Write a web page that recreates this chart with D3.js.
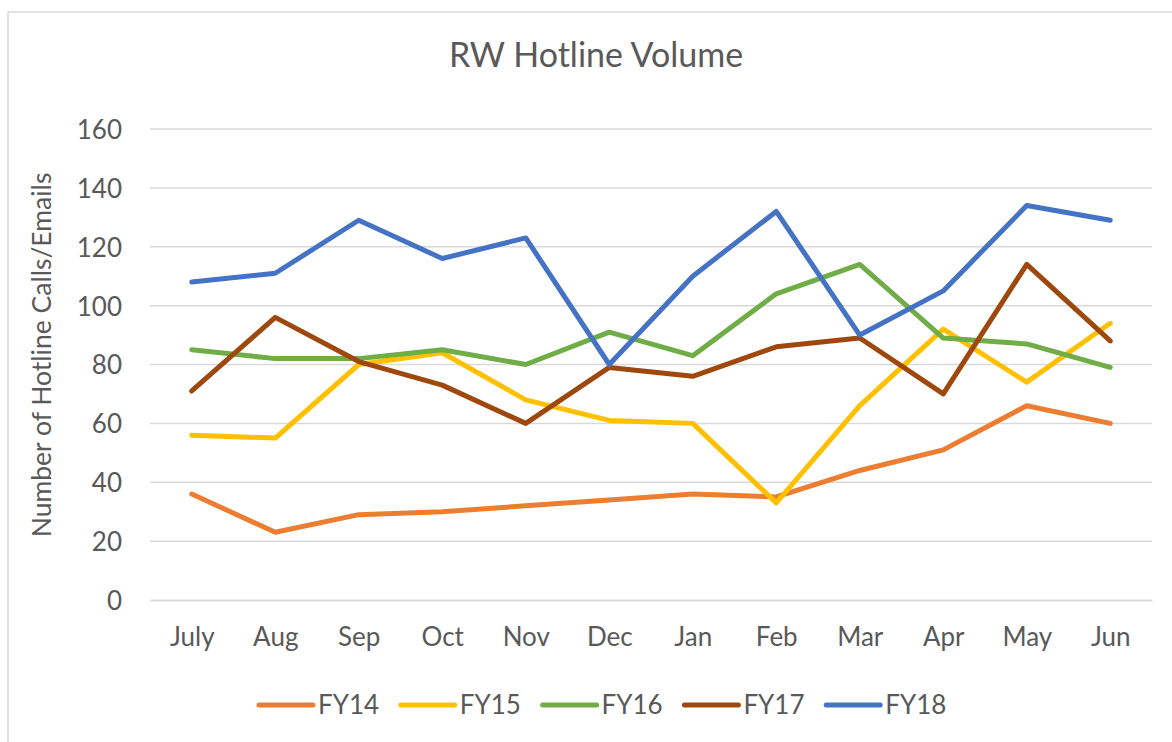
<!DOCTYPE html>
<html>
<head>
<meta charset="utf-8">
<script src="https://cdn.jsdelivr.net/npm/d3@7"></script>
<style>
  html, body { margin: 0; padding: 0; background: #fff; }
  svg { display: block; }
  text { font-family: "Lato", "Open Sans", sans-serif; fill: #595959; }
</style>
</head>
<body>
<svg id="chart" width="1172" height="742"></svg>
<script>
const months = ["July","Aug","Sep","Oct","Nov","Dec","Jan","Feb","Mar","Apr","May","Jun"];
const yTicks = [0,20,40,60,80,100,120,140,160];
const seriesNames = ["FY14","FY15","FY16","FY17","FY18"];
const fy14 = [36,23,29,30,32,34,36,35,44,51,66,60];
const fy15 = [56,55,80,84,68,61,60,33,66,92,74,94];
const fy16 = [85,82,82,85,80,91,83,104,114,89,87,79];
const fy17 = [71,96,81,73,60,79,76,86,89,70,114,88];
const fy18 = [108,111,129,116,123,80,110,132,90,105,134,129];
const seriesValues = [fy14, fy15, fy16, fy17, fy18];
const colors = ["#ED7D31","#FFC000","#70AD47","#9E480E","#4472C4"];

const svg = d3.select("#chart");

// chart border
svg.append("rect")
  .attr("x", 8).attr("y", 12)
  .attr("width", 1200).attr("height", 760)
  .attr("fill", "none").attr("stroke", "#d9d9d9").attr("stroke-width", 1.5);

const plotLeft = 150, plotRight = 1152, plotTop = 129, plotBottom = 600;

const x = d3.scalePoint().domain(months).range([plotLeft, plotRight]).padding(0.5);
const y = d3.scaleLinear().domain([0, 160]).range([plotBottom, plotTop]);

// title
svg.append("text")
  .attr("x", 596).attr("y", 67)
  .attr("text-anchor", "middle")
  .style("font-size", "34px")
  .text("RW Hotline Volume");

// gridlines
svg.append("g").selectAll("line")
  .data(yTicks.filter(d => d !== 0))
  .join("line")
  .attr("x1", plotLeft).attr("x2", plotRight)
  .attr("y1", d => y(d)).attr("y2", d => y(d))
  .attr("stroke", "#d9d9d9").attr("stroke-width", 1.5);

// y axis labels
const yAxis = d3.axisLeft(y).tickValues(yTicks).tickSize(0).tickPadding(0).tickFormat(d3.format("d"));
const gy = svg.append("g").attr("transform", `translate(122,0)`).call(yAxis);
gy.select(".domain").remove();
gy.selectAll("text")
  .style("font-size", "26px")
  .style("font-family", "Lato, 'Open Sans', sans-serif")
  .attr("fill", "#595959")
  .attr("dy", "0.36em");

// x axis
const xAxis = d3.axisBottom(x).tickSize(0).tickPadding(0);
const gx = svg.append("g").attr("transform", `translate(0,${plotBottom})`).call(xAxis);
gx.select(".domain").attr("stroke", "#d9d9d9").attr("stroke-width", 2);
gx.selectAll("text")
  .style("font-size", "26px")
  .style("font-family", "Lato, 'Open Sans', sans-serif")
  .attr("fill", "#595959")
  .attr("y", 46).attr("dy", 0);

// y axis title
svg.append("text")
  .attr("transform", "translate(51,355) rotate(-90)")
  .attr("text-anchor", "middle")
  .style("font-size", "26.5px")
  .text("Number of Hotline Calls/Emails");

// lines
const line = d3.line()
  .x((d, i) => x(months[i]))
  .y(d => y(d));

svg.append("g").selectAll("path")
  .data(seriesValues)
  .join("path")
  .attr("d", d => line(d))
  .attr("fill", "none")
  .attr("stroke", (d, i) => colors[i])
  .attr("stroke-width", 5)
  .attr("stroke-linejoin", "round")
  .attr("stroke-linecap", "round");

// legend
const legend = svg.append("g").selectAll("g")
  .data(seriesNames)
  .join("g")
  .attr("transform", (d, i) => `translate(${259 + i * 141.8},705)`);
legend.append("line")
  .attr("x1", 0).attr("x2", 54)
  .attr("y1", 0).attr("y2", 0)
  .attr("stroke", (d, i) => colors[i])
  .attr("stroke-width", 5)
  .attr("stroke-linecap", "round");
legend.append("text")
  .attr("x", 59).attr("y", 9)
  .style("font-size", "26px")
  .text(d => d);
</script>
</body>
</html>
